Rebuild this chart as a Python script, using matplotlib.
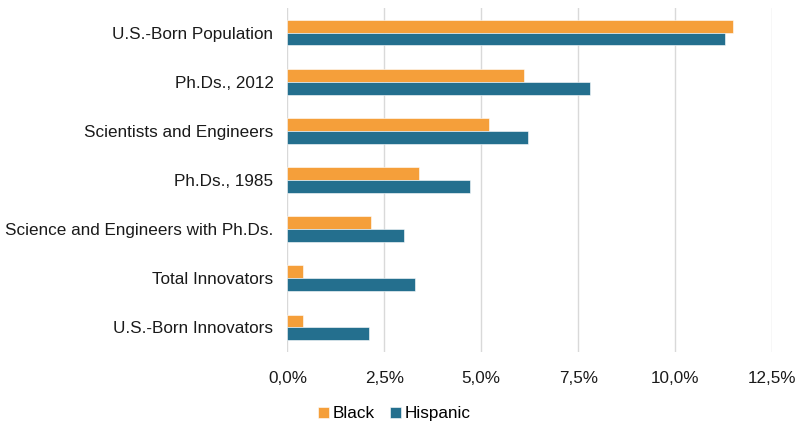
import numpy as np
import matplotlib.pyplot as plt
from matplotlib.ticker import FuncFormatter

plt.rcParams['font.family'] = ['Liberation Sans', 'DejaVu Sans']

categories = ['U.S.-Born Population', 'Ph.Ds., 2012', 'Scientists and Engineers',
              'Ph.Ds., 1985', 'Science and Engineers with Ph.Ds.',
              'Total Innovators', 'U.S.-Born Innovators']
black = [11.5, 6.1, 5.2, 3.4, 2.15, 0.4, 0.4]
hispanic = [11.3, 7.8, 6.2, 4.7, 3.0, 3.3, 2.1]

orange = '#F59F3A'
blue = '#246F8E'

fig = plt.figure(figsize=(8.05, 4.28), dpi=100)
ax = fig.add_axes([0.357, 0.178, 0.602, 0.803])

y = np.arange(len(categories))
h = 0.26
ax.barh(y - h / 2, black, height=h, color=orange, edgecolor='white', linewidth=0.4, label='Black', zorder=3)
ax.barh(y + h / 2, hispanic, height=h, color=blue, edgecolor='white', linewidth=0.4, label='Hispanic', zorder=3)

ax.set_ylim(len(categories) - 0.5, -0.5)
ax.set_xlim(0, 12.5)
ax.set_yticks(y)
ax.set_yticklabels(categories, fontsize=12.3, color='#1a1a1a')
ax.set_xticks(np.arange(0, 12.6, 2.5))
ax.xaxis.set_major_formatter(FuncFormatter(lambda v, p: f'{v:.1f}%'.replace('.', ',')))
ax.tick_params(axis='x', labelsize=12.3, colors='#1a1a1a', length=0, pad=14)
ax.tick_params(axis='y', length=0, pad=10)
ax.grid(axis='x', color='#d9d9d9', linewidth=1, zorder=0)
for s in ax.spines.values():
    s.set_visible(False)

fig.legend(loc='center', bbox_to_anchor=(0.49, 0.033), ncol=2, frameon=False,
           fontsize=12.3, handlelength=0.65, handleheight=0.65, handletextpad=0.2,
           columnspacing=0.9)

fig.savefig('out.png', dpi=100)
